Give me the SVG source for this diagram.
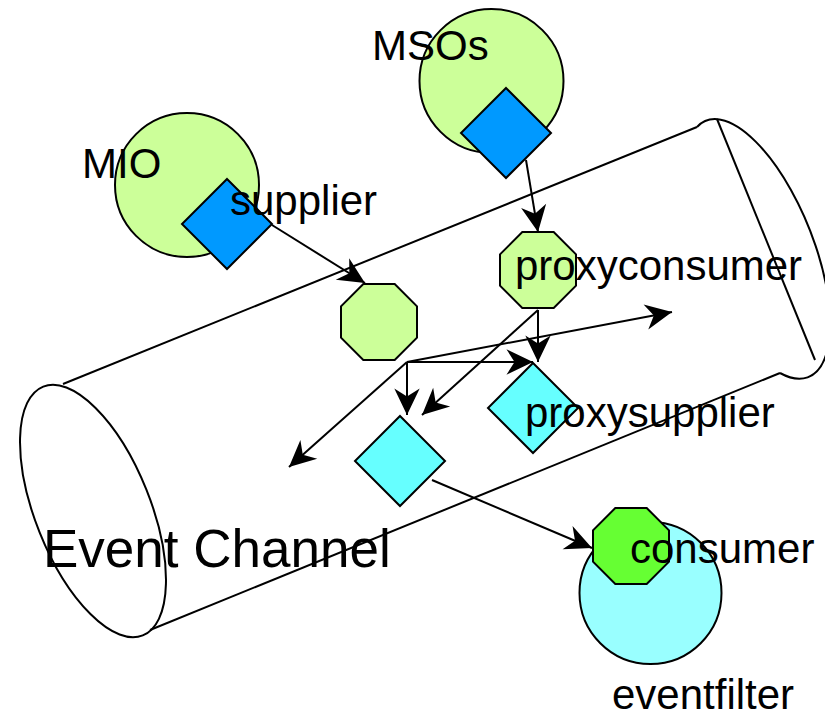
<svg xmlns="http://www.w3.org/2000/svg" xmlns:xlink="http://www.w3.org/1999/xlink" width="825" height="719" viewBox="0 0 825 719">
  <style>
    .ln { fill: none; stroke: #000; stroke-width: 2; }
    .shape { stroke: #000; stroke-width: 2; }
    .ball { fill: #CCFF99; }
    .filterball { fill: #99FFFF; }
    .port { fill: #0099FF; }
    .proxy-s { fill: #66FFFF; }
    .proxy-c { fill: #CCFF99; }
    .cons { fill: #66FF33; }
    .label { font-family: "Liberation Sans", Arial, sans-serif; font-size: 42px; fill: #000; }
    .title { font-family: "Liberation Sans", Arial, sans-serif; font-size: 53px; fill: #000; }
    .arrow { fill: none; stroke: #000; stroke-width: 2; marker-end: url(#head); }
  </style>
  <defs>
    <marker id="head" markerUnits="userSpaceOnUse" markerWidth="30" markerHeight="30" viewBox="-24 -12 26 24" refX="0" refY="0" orient="auto">
      <path d="M0,0 L-23,-11 L-16,0 L-23,11 Z" fill="#000"/>
    </marker>
    <polygon id="oct" points="-15.7,-38 15.7,-38 38,-15.7 38,15.7 15.7,38 -15.7,38 -38,15.7 -38,-15.7"/>
    <polygon id="dia" points="0,-45 45,0 0,45 -45,0"/>
  </defs>

  <!-- event channel drawn as a tilted cylinder -->
  <g id="event-channel">
    <ellipse class="ln" cx="93" cy="511" rx="57.5" ry="134" transform="rotate(-21.8 93 511)"/>
    <line class="ln" x1="63" y1="384" x2="697" y2="127"/>
    <line class="ln" x1="150" y1="630" x2="780" y2="373"/>
    <path class="ln" d="M697,127 A56 138 -21.8 1 1 780,373"/>
    <line class="ln" x1="717" y1="119" x2="815" y2="360"/>
    <text class="title" x="43" y="567">Event Channel</text>
  </g>

  <!-- supplier objects -->
  <g id="mio">
    <circle class="shape ball" cx="187" cy="185" r="72"/>
    <text class="label" x="82" y="178">MIO</text>
  </g>
  <g id="msos">
    <circle class="shape ball" cx="491.5" cy="81" r="72"/>
  </g>
  <g id="eventfilter">
    <circle class="shape filterball" cx="650.5" cy="593" r="71"/>
    <text class="label" x="612" y="709">eventfilter</text>
  </g>

  <!-- connectors -->
  <g id="connectors">
    <line class="arrow" x1="272" y1="225" x2="365" y2="283"/>
    <line class="arrow" x1="526" y1="160" x2="538" y2="232"/>
    <line class="arrow" x1="538" y1="310" x2="538" y2="362"/>
    <line class="arrow" x1="538" y1="310" x2="422" y2="415"/>
    <line class="arrow" x1="407" y1="362" x2="533" y2="362"/>
    <line class="arrow" x1="407" y1="362" x2="407" y2="415"/>
    <line class="arrow" x1="407" y1="362" x2="289" y2="467"/>
    <line class="arrow" x1="407" y1="362" x2="672" y2="312"/>
    <line class="arrow" x1="432" y1="480" x2="592" y2="548"/>
  </g>

  <g id="mio-supplier">
    <use href="#dia" xlink:href="#dia" class="shape port" x="227" y="224"/>
    <text class="label" x="230" y="215">supplier</text>
  </g>
  <g id="msos-supplier">
    <use href="#dia" xlink:href="#dia" class="shape port" x="506" y="133"/>
    <text class="label" x="372" y="60">MSOs</text>
  </g>
  <g id="proxy-consumer-a">
    <use href="#oct" xlink:href="#oct" class="shape proxy-c" x="379" y="322"/>
  </g>
  <g id="proxy-consumer-b">
    <use href="#oct" xlink:href="#oct" class="shape proxy-c" x="538" y="270"/>
    <text class="label" x="515" y="280">proxyconsumer</text>
  </g>
  <g id="proxy-supplier-a">
    <use href="#dia" xlink:href="#dia" class="shape proxy-s" x="400" y="461"/>
  </g>
  <g id="proxy-supplier-b">
    <use href="#dia" xlink:href="#dia" class="shape proxy-s" x="533" y="408"/>
    <text class="label" x="525" y="427">proxysupplier</text>
  </g>
  <g id="consumer">
    <use href="#oct" xlink:href="#oct" class="shape cons" x="631" y="546"/>
    <text class="label" x="630" y="563">consumer</text>
  </g>
</svg>
